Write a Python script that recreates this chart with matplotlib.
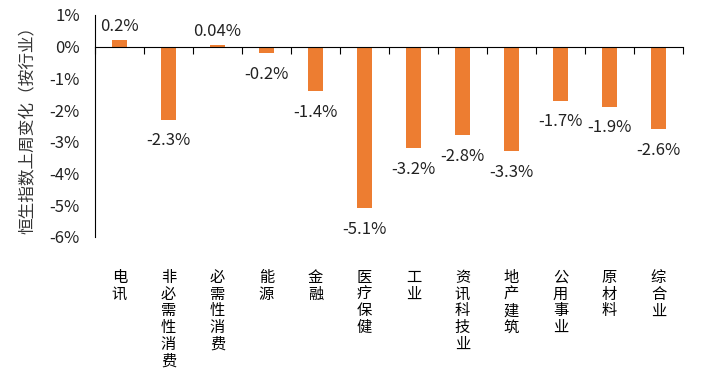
import numpy as np
import matplotlib.pyplot as plt

plt.rcParams['font.family'] = ['Noto Sans CJK SC', 'DejaVu Sans']

categories = ["电讯", "非必需性消费", "必需性消费", "能源", "金融", "医疗保健",
              "工业", "资讯科技业", "地产建筑", "公用事业", "原材料", "综合业"]
values = [0.2, -2.3, 0.04, -0.2, -1.4, -5.1, -3.2, -2.8, -3.3, -1.7, -1.9, -2.6]
labels = ["0.2%", "-2.3%", "0.04%", "-0.2%", "-1.4%", "-5.1%",
          "-3.2%", "-2.8%", "-3.3%", "-1.7%", "-1.9%", "-2.6%"]
yticks = [1, 0, -1, -2, -3, -4, -5, -6]

fig = plt.figure(figsize=(7.12, 3.70), dpi=100)
ax = fig.add_axes([0.1334, 0.3595, 0.8259, 0.6000])

x = np.arange(len(categories))
ax.bar(x, values, width=0.31, color='#ED7D31')

for i, (v, lab) in enumerate(zip(values, labels)):
    if v >= 0:
        ax.annotate(lab, (i, v), xytext=(0, 4), textcoords='offset points',
                    ha='center', va='bottom', fontsize=12, color='#222222')
    else:
        ax.annotate(lab, (i, v), xytext=(0, -9), textcoords='offset points',
                    ha='center', va='top', fontsize=12, color='#222222')

# category names, stacked vertically below the plot area
for i, c in enumerate(categories):
    ax.annotate("\n".join(c), (i, -6), xytext=(0, -23), textcoords='offset points',
                ha='center', va='top', fontsize=11, linespacing=0.98)

ax.set_xlim(-0.5, 11.5)
ax.set_ylim(-6, 1)
ax.set_yticks(yticks)
ax.set_yticklabels([f"{t}%" for t in yticks], fontsize=12, color='#222222')
ax.tick_params(axis='y', length=0, pad=11)

ax.set_xticks(np.arange(-0.5, 12, 1))
ax.set_xticklabels([])
ax.tick_params(axis='x', direction='out', length=5, color='black')

ax.spines['top'].set_visible(False)
ax.spines['right'].set_visible(False)
ax.spines['bottom'].set_position(('data', 0))
ax.spines['left'].set_color('black')
ax.spines['bottom'].set_color('black')

ax.set_ylabel("恒生指数上周变化（按行业）", fontsize=12, color='#333333', labelpad=9)

fig.savefig("out.png", dpi=100)
